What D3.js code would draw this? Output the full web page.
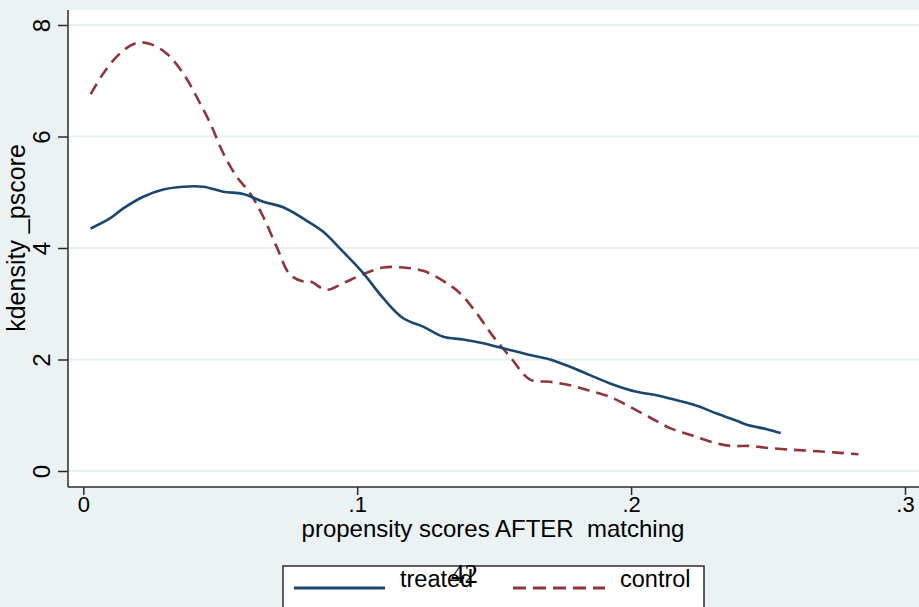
<!DOCTYPE html>
<html>
<head>
<meta charset="utf-8">
<script src="https://cdn.jsdelivr.net/npm/d3@7"></script>
<style>
  body { margin: 0; background: #eaf2f3; }
  svg { display: block; font-family: "Liberation Sans", Arial, sans-serif; }
</style>
</head>
<body>
<div id="chart"></div>
<script>
// kdensity of _pscore
var treatedX = [0.0027, 0.0097, 0.0146, 0.0219, 0.0292, 0.0365, 0.0438, 0.0511, 0.0584, 0.0657, 0.0730, 0.0828,
                0.0876, 0.0949, 0.1022, 0.1095, 0.1168, 0.1241, 0.1314, 0.1387, 0.1460, 0.1533, 0.1631,
                0.1704, 0.1777, 0.1850, 0.1923, 0.2020, 0.2093, 0.2167, 0.2240, 0.2313, 0.2386, 0.2422, 0.2495, 0.2546];
var treatedY = [4.35, 4.53, 4.71, 4.92, 5.05, 5.10, 5.10, 5.01, 4.97, 4.83, 4.73, 4.45,
                4.29, 3.93, 3.55, 3.10, 2.74, 2.59, 2.41, 2.36, 2.29, 2.20, 2.08,
                2.00, 1.87, 1.72, 1.57, 1.42, 1.36, 1.27, 1.17, 1.03, 0.90, 0.83, 0.75, 0.68];

var controlX = [0.0027, 0.0073, 0.0134, 0.0195, 0.0244, 0.0304, 0.0365, 0.0414, 0.0463, 0.0511, 0.0560, 0.0609,
                0.0657, 0.0706, 0.0755, 0.0803, 0.0828, 0.0889, 0.0949, 0.1022, 0.1095, 0.1168, 0.1241,
                0.1314, 0.1375, 0.1436, 0.1497, 0.1558, 0.1631, 0.1704, 0.1777, 0.1850, 0.1923, 0.1996,
                0.2069, 0.2142, 0.2215, 0.2288, 0.2361, 0.2434, 0.2507, 0.2592, 0.2665, 0.2751, 0.2830];
var controlY = [6.76, 7.13, 7.49, 7.68, 7.66, 7.49, 7.13, 6.71, 6.24, 5.70, 5.28, 4.98,
                4.56, 4.02, 3.52, 3.40, 3.40, 3.25, 3.37, 3.53, 3.65, 3.65, 3.59,
                3.41, 3.19, 2.83, 2.41, 2.05, 1.64, 1.60, 1.54, 1.44, 1.33, 1.15,
                0.96, 0.77, 0.65, 0.53, 0.45, 0.45, 0.41, 0.38, 0.36, 0.33, 0.30];

var xTicks = [0, 0.1, 0.2, 0.3];
var xTickLabels = ["0", ".1", ".2", ".3"];
var yTicks = [0, 2, 4, 6, 8];
var seriesNames = ["treated", "control"];
var xTitle = "propensity scores AFTER  matching";
var yTitle = "kdensity _pscore";
var pageNumber = "42";

var W = 919, H = 607;
var navy = "#1a476f", maroon = "#90353b", axisCol = "#2b2b2b";

var svg = d3.select("#chart").append("svg")
  .attr("width", W)
  .attr("height", H);

svg.append("rect")
  .attr("width", W).attr("height", H)
  .attr("fill", "#eaf2f3");

// plot region
var plotL = 68, plotT = 10, plotB = 487;
svg.append("rect")
  .attr("x", plotL).attr("y", plotT)
  .attr("width", W - plotL).attr("height", plotB - plotT)
  .attr("fill", "white");

var x = d3.scaleLinear().domain([0, 0.3]).range([83.3, 905]);
var y = d3.scaleLinear().domain([0, 8]).range([471, 25]);

// grid
svg.selectAll(".grid")
  .data(yTicks)
  .enter()
  .append("line")
  .attr("class", "grid")
  .attr("x1", plotL).attr("x2", W)
  .attr("y1", function(d) { return y(d); })
  .attr("y2", function(d) { return y(d); })
  .attr("stroke", "#e6eff1")
  .attr("stroke-width", 2);

// y axis
var yAxis = svg.append("g")
  .attr("transform", "translate(" + plotL + ",0)")
  .call(d3.axisLeft(y).tickValues(yTicks).tickSize(10).tickFormat(d3.format("d")));
yAxis.select(".domain").remove();
yAxis.selectAll("line").attr("stroke", axisCol).attr("stroke-width", 1.5);
yAxis.selectAll("text")
  .attr("x", null).attr("dy", null)
  .attr("transform", "translate(-18,0) rotate(-90)")
  .attr("text-anchor", "middle")
  .attr("fill", "black")
  .style("font-size", "24px")
  .style("font-family", "Liberation Sans, Arial, sans-serif");

// x axis
var xAxis = svg.append("g")
  .attr("transform", "translate(0," + plotB + ")")
  .call(d3.axisBottom(x).tickValues(xTicks).tickSize(8)
    .tickFormat(function(d, i) { return xTickLabels[i]; }));
xAxis.select(".domain").remove();
xAxis.selectAll("line").attr("stroke", axisCol).attr("stroke-width", 1.5);
xAxis.selectAll("text")
  .attr("y", 25).attr("dy", null)
  .attr("fill", "black")
  .style("font-size", "22px")
  .style("font-family", "Liberation Sans, Arial, sans-serif");

// axis lines
svg.append("line")
  .attr("x1", plotL).attr("x2", plotL)
  .attr("y1", plotT).attr("y2", plotB)
  .attr("stroke", axisCol).attr("stroke-width", 1.5);
svg.append("line")
  .attr("x1", plotL).attr("x2", W)
  .attr("y1", plotB).attr("y2", plotB)
  .attr("stroke", axisCol).attr("stroke-width", 1.5);

// titles
svg.append("text")
  .attr("x", 493).attr("y", 537)
  .attr("text-anchor", "middle")
  .style("font-size", "24px")
  .style("white-space", "pre")
  .attr("xml:space", "preserve")
  .text(xTitle);

svg.append("text")
  .attr("transform", "translate(25,238) rotate(-90)")
  .attr("text-anchor", "middle")
  .style("font-size", "25px")
  .text(yTitle);

// curves
var line = d3.line()
  .x(function(d) { return x(d[0]); })
  .y(function(d) { return y(d[1]); })
  .curve(d3.curveCatmullRom);

var treated = d3.zip(treatedX, treatedY);
var control = d3.zip(controlX, controlY);

svg.append("path")
  .datum(control)
  .attr("d", line)
  .attr("fill", "none")
  .attr("stroke", maroon)
  .attr("stroke-width", 2.6)
  .attr("stroke-dasharray", "12,7");

svg.append("path")
  .datum(treated)
  .attr("d", line)
  .attr("fill", "none")
  .attr("stroke", navy)
  .attr("stroke-width", 2.6);

// legend
svg.append("rect")
  .attr("x", 283).attr("y", 566)
  .attr("width", 421).attr("height", 60)
  .attr("fill", "white")
  .attr("stroke", axisCol)
  .attr("stroke-width", 1.5);

var legendItems = [
  { name: seriesNames[0], x1: 294, x2: 385, tx: 400, color: navy, dash: null },
  { name: seriesNames[1], x1: 513, x2: 605, tx: 620, color: maroon, dash: "13,7" }
];

var leg = svg.selectAll(".leg")
  .data(legendItems)
  .enter()
  .append("g")
  .attr("class", "leg");

leg.append("line")
  .attr("x1", function(d) { return d.x1; })
  .attr("x2", function(d) { return d.x2; })
  .attr("y1", 588).attr("y2", 588)
  .attr("stroke", function(d) { return d.color; })
  .attr("stroke-width", 3)
  .attr("stroke-dasharray", function(d) { return d.dash; });

leg.append("text")
  .attr("x", function(d) { return d.tx; })
  .attr("y", 587)
  .style("font-size", "23.5px")
  .text(function(d) { return d.name; });

// stray page number sitting on top of the legend (it overlaps in the original too)
svg.append("text")
  .attr("x", 451).attr("y", 583)
  .style("font-family", "Liberation Serif, Times New Roman, serif")
  .style("font-size", "27px")
  .text(pageNumber);
</script>
</body>
</html>
